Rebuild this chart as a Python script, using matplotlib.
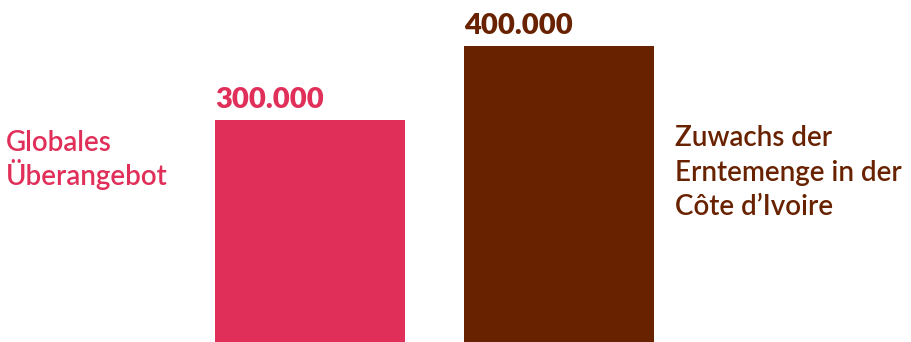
import matplotlib.pyplot as plt

# values
categories = ['Globales\nÜberangebot', 'Zuwachs der\nErntemenge in der\nCôte d\u2019Ivoire']
values = [300000, 400000]
value_labels = ['300.000', '400.000']
colors = ['#E0305A', '#692200']

plt.rcParams['font.family'] = ['Lato', 'DejaVu Sans']

fig = plt.figure(figsize=(9.11, 3.42), dpi=100)
ax = fig.add_axes([0, 0, 1, 1])

pos = [0, 1]
bars = ax.bar(pos, values, width=0.763, color=colors)
ax.set_xlim(-1.245, 2.414)
ax.set_ylim(0, 462000)
ax.axis('off')

# value labels above the bars, left aligned with the bar edge
for b, lab, c in zip(bars, value_labels, colors):
    ax.annotate(lab, xy=(b.get_x(), b.get_height()), xytext=(0, 12),
                textcoords='offset pixels',
                ha='left', va='baseline', fontsize=21, fontweight='heavy',
                color=c)

# category labels at the sides (anchored on last line's baseline)
fig.text(6 / 911, 1 - 185 / 342, categories[0], ha='left', va='baseline',
         fontsize=20, fontweight='semibold', color=colors[0],
         linespacing=1.13)
fig.text(675 / 911, 1 - 215 / 342, categories[1], ha='left', va='baseline',
         fontsize=20, fontweight='semibold', color=colors[1],
         linespacing=1.4)

fig.savefig('out.png', dpi=100)
